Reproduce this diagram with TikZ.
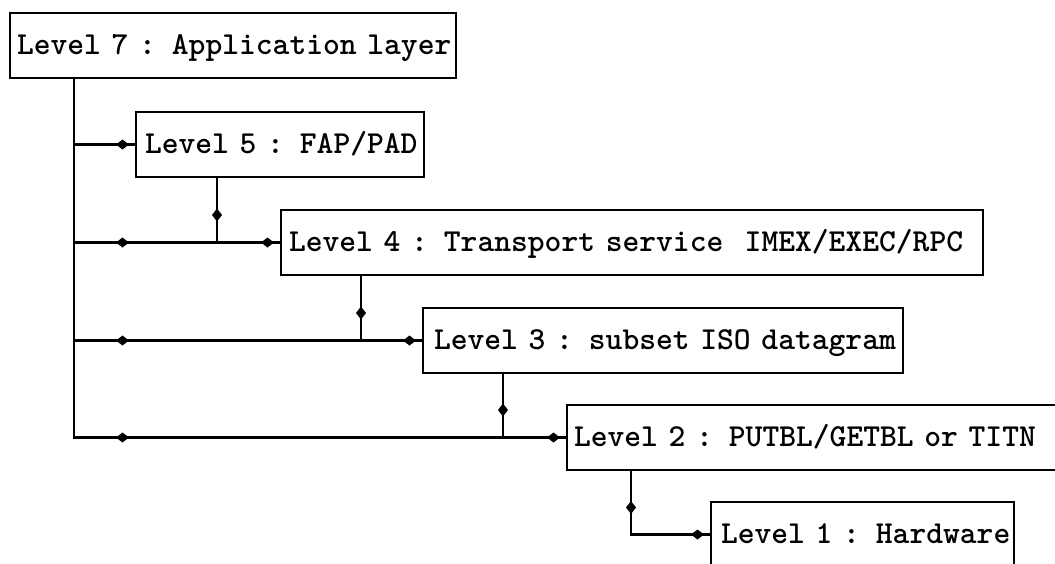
\documentclass[tikz,border=0pt]{standalone}
\usetikzlibrary{arrows.meta,decorations.markings}

\tikzset{
  wire/.style={line width=2.5pt, line cap=rect},
  mk/.style={postaction={decorate,decoration={markings,
      mark=at position #1 with {\arrow{Kite[length=13pt,width=10pt,inset=6.5pt]}}}}},
  lvl/.style 2 args={draw, line width=2.5pt, outer sep=0pt, anchor=north west,
      inner xsep=0pt, inner ysep=0pt, minimum height=65pt,
      text width=#1, align=left, text height=18pt, text depth=0pt,
      font=\ttfamily\fontseries{b}\fontsize{32pt}{36pt}\selectfont,
      execute at begin node={\hspace*{#2}}},
}

\begin{document}
\begin{tikzpicture}[x=1pt,y=-1pt]
\useasboundingbox (0,0) rectangle (1055,563);
\clip (0,0) rectangle (1055,563);
\fill[white] (0,0) rectangle (1055,563);

% the protocol levels
\node[lvl={446pt}{7pt}]  (L7) at (10,13)  {Level 7 : Application layer};
\node[lvl={288pt}{9pt}]  (L5) at (136,112) {Level 5 : FAP/PAD};
\node[lvl={702pt}{8pt}]  (L4) at (281,210) {Level 4 : Transport service\ \ IMEX/EXEC/RPC};
\node[lvl={480pt}{11pt}] (L3) at (423,308) {Level 3 : subset ISO datagram};
\node[lvl={520pt}{7pt}]  (L2) at (567,405) {Level 2 : PUTBL/GETBL or TITN};
\node[lvl={303pt}{10pt}] (L1) at (711,502) {Level 1 : Hardware};

% trunk from the application layer and its branch points
\coordinate (r5) at (74,0 |- L5.west);
\coordinate (r4) at (74,0 |- L4.west);
\coordinate (r3) at (74,0 |- L3.west);
\coordinate (r2) at (74,0 |- L2.west);
\coordinate (j4) at (217,0 |- L4.west);
\coordinate (j3) at (361,0 |- L3.west);
\coordinate (j2) at (503,0 |- L2.west);
\coordinate (k1) at (631,0 |- L1.west);

\draw[wire] (L7.south -| r2) -- (r2);

% branches into each level
\draw[wire, mk=-7pt] (r5) -- (L5.west);
\draw[wire, mk=55pt, mk=-7pt] (r4) -- (L4.west);
\draw[wire, mk=55pt, mk=-7pt] (r3) -- (L3.west);
\draw[wire, mk=55pt, mk=-7pt] (r2) -- (L2.west);

% each level hands down to the next one
\draw[wire, mk=-21pt] (L5.south -| j4) -- (j4);
\draw[wire, mk=-21pt] (L4.south -| j3) -- (j3);
\draw[wire, mk=-21pt] (L3.south -| j2) -- (j2);
\draw[wire, mk=44pt, mk=-7pt] (L2.south -| k1) -- (k1) -- (L1.west);
\end{tikzpicture}
\end{document}
